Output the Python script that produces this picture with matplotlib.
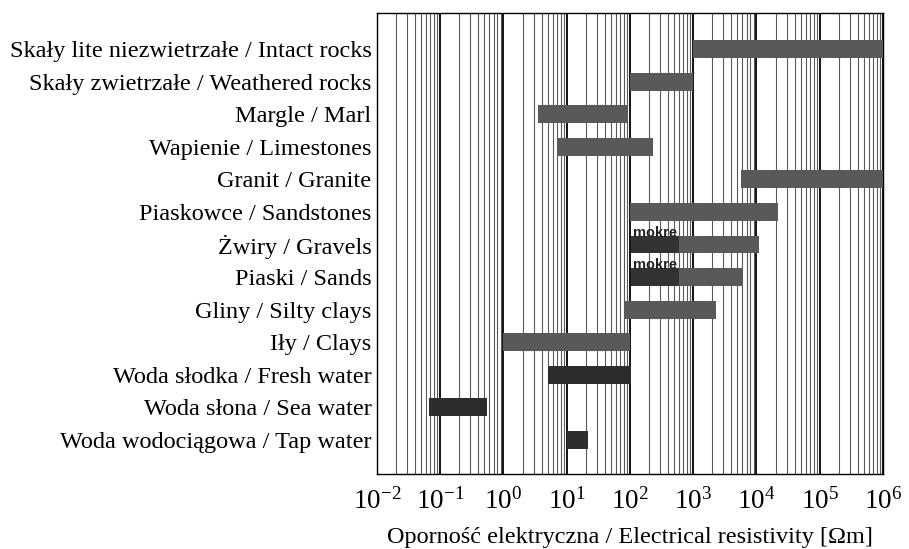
import numpy as np
import matplotlib
matplotlib.use("Agg")
import matplotlib.pyplot as plt
from matplotlib.ticker import LogLocator, NullFormatter

plt.rcParams['font.family'] = ['Liberation Serif', 'DejaVu Serif']
plt.rcParams['mathtext.fontset'] = 'stix'

# rocks / water types, top to bottom
labels = [
    "Skały lite niezwietrzałe / Intact rocks",
    "Skały zwietrzałe / Weathered rocks",
    "Margle / Marl",
    "Wapienie / Limestones",
    "Granit / Granite",
    "Piaskowce / Sandstones",
    "Żwiry / Gravels",
    "Piaski / Sands",
    "Gliny / Silty clays",
    "Iły / Clays",
    "Woda słodka / Fresh water",
    "Woda słona / Sea water",
    "Woda wodociągowa / Tap water",
]
# resistivity ranges [Ohm m]
r_min = [1000, 100, 3.5, 7, 5700, 100, 105, 105, 80, 1, 5, 0.067, 10]
r_max = [1e6, 1000, 90, 230, 1e6, 22000, 11000, 5800, 2300, 100, 105, 0.55, 22]
is_water = [False] * 10 + [True] * 3

# wet ("mokre") part of gravels and sands
wet_rows = ["Żwiry / Gravels", "Piaski / Sands"]
wet_max = [600, 600]

gray = '#58595b'
dark = '#2e2c2d'

fig = plt.figure(figsize=(9.09, 5.49), dpi=100)
ax = fig.add_axes([0.4147, 0.1366, 0.9714 - 0.4147, 0.9763 - 0.1366])
ax.set_xscale('log')
ax.set_xlim(1e-2, 1e6)

y = np.arange(len(labels))
h = 0.55
colors = [dark if w else gray for w in is_water]
ax.barh(y, np.array(r_max) - np.array(r_min), left=r_min, height=h,
        color=colors, zorder=3)

for name, wm in zip(wet_rows, wet_max):
    i = labels.index(name)
    ax.barh(i, wm - r_min[i], left=r_min[i], height=h, color='#333132', zorder=4)
    ax.text(r_min[i] * 1.05, i - h / 2 + 0.03, "mokre", family='Liberation Sans',
            fontweight='bold', fontsize=10.5, color='#222222', ha='left',
            va='baseline', zorder=5)

# vertical grid
ax.xaxis.set_major_locator(LogLocator(base=10, numticks=20))
ax.xaxis.set_minor_locator(LogLocator(base=10, subs=np.arange(2, 10), numticks=20))
ax.xaxis.set_minor_formatter(NullFormatter())
ax.grid(True, which='minor', axis='x', color='0.35', linewidth=0.8, zorder=1)
ax.grid(True, which='major', axis='x', color='black', linewidth=1.3, zorder=1)
ax.set_axisbelow(True)

ax.set_yticks(y)
ax.set_yticklabels(labels, fontsize=17.5)
ax.set_ylim(len(labels) - 1 + 34 / 32.58, -36 / 32.58)

ax.tick_params(axis='both', which='both', length=0)
ax.tick_params(axis='x', labelsize=19.5, pad=10)
ax.tick_params(axis='y', pad=4)

ax.set_xlabel("Oporność elektryczna / Electrical resistivity [Ωm]", fontsize=17.5,
              labelpad=9)

for s in ax.spines.values():
    s.set_linewidth(1.0)
    s.set_color('black')

fig.savefig("out.png", dpi=100)
